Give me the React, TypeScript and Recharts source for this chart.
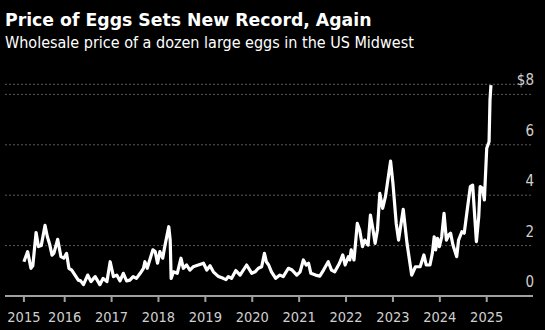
import { LineChart, Line, XAxis, YAxis, CartesianGrid } from 'recharts';

const years = [2015.13, 2016, 2017, 2018, 2019, 2020, 2021, 2022, 2023, 2024, 2025];
const priceTicks = [0, 2, 4, 6, 8];

// decimal year of each reading
const dates = [
    2015.13, 2015.21, 2015.28, 2015.32, 2015.39, 2015.44, 2015.5, 2015.58, 2015.63, 2015.68,
    2015.73, 2015.77, 2015.85, 2015.92, 2015.98, 2016.04, 2016.09, 2016.15, 2016.22, 2016.29,
    2016.34, 2016.4, 2016.49, 2016.56, 2016.65, 2016.75, 2016.82, 2016.9, 2016.97, 2017.04,
    2017.11, 2017.18, 2017.25, 2017.32, 2017.39, 2017.46, 2017.53, 2017.61, 2017.68, 2017.71,
    2017.76, 2017.88, 2017.93, 2017.98, 2018.03, 2018.09, 2018.14, 2018.22, 2018.25, 2018.27,
    2018.32, 2018.4, 2018.48, 2018.53, 2018.6, 2018.67, 2018.74, 2018.85, 2018.96, 2019.03,
    2019.1, 2019.17, 2019.28, 2019.38, 2019.44, 2019.49, 2019.56, 2019.65, 2019.74, 2019.88,
    2019.99, 2020.06, 2020.13, 2020.2, 2020.26, 2020.3, 2020.35, 2020.41, 2020.5, 2020.59,
    2020.66, 2020.77, 2020.85, 2020.95, 2021.02, 2021.09, 2021.15, 2021.2, 2021.25, 2021.35,
    2021.44, 2021.52, 2021.62, 2021.69, 2021.76, 2021.86, 2021.93, 2021.98, 2022.05, 2022.08,
    2022.11, 2022.17, 2022.24, 2022.29, 2022.35, 2022.4, 2022.47, 2022.52, 2022.57, 2022.62,
    2022.67, 2022.72, 2022.78, 2022.84, 2022.95, 2023.0, 2023.07, 2023.12, 2023.22, 2023.3,
    2023.4, 2023.48, 2023.58, 2023.66, 2023.71, 2023.79, 2023.84, 2023.88, 2023.91, 2023.95,
    2023.99, 2024.04, 2024.09, 2024.14, 2024.19, 2024.23, 2024.28, 2024.36, 2024.4, 2024.47,
    2024.52, 2024.58, 2024.65, 2024.7, 2024.78, 2024.83, 2024.86, 2024.91, 2024.95, 2025.0,
    2025.05, 2025.07, 2025.09,
];

// $ per dozen
const prices = [
    1.36, 1.76, 1.1, 1.2, 2.52, 1.96, 2.0, 2.8, 2.35, 2.05,
    1.62, 1.7, 2.25, 1.56, 1.5, 1.69, 1.1, 1.03, 0.83, 0.63,
    0.6, 0.45, 0.83, 0.57, 0.77, 0.45, 0.7, 0.57, 1.36, 0.77,
    0.83, 0.6, 0.9, 0.6, 0.63, 0.77, 0.7, 0.9, 1.1, 1.36,
    1.1, 1.83, 1.76, 1.3, 1.76, 1.5, 2.02, 2.75, 2.22, 0.7,
    0.96, 0.9, 1.5, 1.1, 1.23, 1.03, 1.16, 1.23, 1.3, 1.03,
    1.2, 0.96, 0.77, 0.7, 0.65, 0.77, 0.7, 1.01, 0.83, 1.23,
    0.9, 0.96, 1.1, 1.16, 1.69, 1.36, 1.23, 0.96, 0.7, 0.83,
    0.77, 1.1, 1.03, 0.83, 0.96, 1.43, 1.23, 1.3, 0.9, 0.83,
    0.79, 1.03, 1.36, 1.03, 0.96, 1.3, 1.63, 1.23, 1.56, 1.43,
    1.83, 1.43, 2.88, 2.62, 1.96, 2.22, 2.02, 3.21, 2.69, 2.09,
    2.62, 4.07, 3.48, 3.94, 5.35, 4.47, 2.88, 2.22, 3.44, 2.09,
    0.83, 1.16, 1.16, 1.63, 1.23, 1.23, 1.69, 2.35, 1.83, 2.29,
    1.96, 2.35, 3.28, 2.22, 2.42, 2.49, 2.02, 1.56, 2.22, 2.55,
    2.49, 3.35, 4.34, 4.4, 2.16, 3.15, 4.34, 4.27, 3.81, 5.86,
    6.12, 7.78, 8.37,
];

const data = dates.map((t, i) => ({ t, price: prices[i] }));

const font = "'DejaVu Sans Condensed', 'DejaVu Sans', sans-serif";

const PriceTick = (props: any) => {
    const { y, payload } = props;
    return (
        <text x={534} y={y - 9} textAnchor="end" fill="#cfcfcf" fontSize={15} fontFamily={font}>
            {payload.value === 8 ? '$8' : payload.value}
        </text>
    );
};

export default function App() {
    return (
        <div style={{ position: 'relative', width: 545, height: 330, background: '#000', overflow: 'hidden' }}>
            <style>{`body { margin: 0; background: #000; }`}</style>
            <div style={{
                position: 'absolute', left: 5, top: 10, color: '#fff', fontWeight: 700, fontSize: 17.3,
                fontFamily: "'DejaVu Sans', sans-serif", lineHeight: '20px', whiteSpace: 'nowrap',
            }}>
                Price of Eggs Sets New Record, Again
            </div>
            <div style={{
                position: 'absolute', left: 5, top: 33, color: '#fff', fontSize: 16,
                fontFamily: font, lineHeight: '20px', whiteSpace: 'nowrap',
            }}>
                Wholesale price of a dozen large eggs in the US Midwest
            </div>
            <LineChart
                width={545}
                height={330}
                data={data}
                margin={{ top: 84.3, right: 11, left: 5, bottom: 0 }}
                style={{ position: 'absolute', left: 0, top: 0 }}
            >
                <CartesianGrid vertical={false} stroke="#5a5a5a" strokeDasharray="2 2" />
                <XAxis
                    dataKey="t"
                    type="number"
                    domain={[2014.727, 2025.987]}
                    ticks={years}
                    tickFormatter={(v: number) => String(Math.floor(v))}
                    stroke="#a0a0a0"
                    strokeWidth={2}
                    tickSize={6}
                    tickMargin={10}
                    height={34}
                    tick={{ fill: '#cfcfcf', fontSize: 14.5, fontFamily: font }}
                    allowDataOverflow
                />
                <YAxis
                    orientation="right"
                    domain={[0, 8.4]}
                    ticks={priceTicks}
                    width={1}
                    axisLine={false}
                    tickLine={false}
                    tick={PriceTick}
                    allowDataOverflow
                />
                <Line
                    dataKey="price"
                    type="linear"
                    stroke="#fff"
                    strokeWidth={3.2}
                    strokeLinejoin="round"
                    dot={false}
                    isAnimationActive={false}
                />
            </LineChart>
        </div>
    );
}
